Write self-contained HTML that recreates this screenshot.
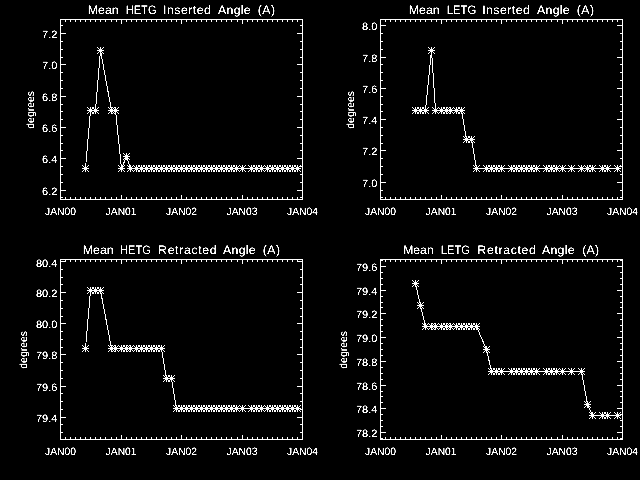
<!DOCTYPE html>
<html lang="en"><head><meta charset="utf-8"><title>Mean Grating Angles</title>
<style>html,body{margin:0;padding:0;background:#000;overflow:hidden}svg{display:block}text{font-family:"Liberation Sans",sans-serif;fill:#fff;stroke:#fff;stroke-width:0px;text-rendering:geometricPrecision}.t{font-size:12.3px}.l{font-size:10.7px}.a{stroke:#fff;stroke-width:1;fill:none;shape-rendering:crispEdges}.f{fill:#fff;shape-rendering:crispEdges}</style></head><body>
<svg width="640" height="480" viewBox="0 0 640 480">
<rect width="640" height="480" fill="#000"/>
<defs><filter id="tx" x="0" y="0" width="640" height="480" filterUnits="userSpaceOnUse" color-interpolation-filters="sRGB"><feComponentTransfer><feFuncA type="linear" slope="3" intercept="-0.8"/></feComponentTransfer></filter><path id="m" d="M-3,0h7v1h-7zM0,-3h1v7h-1zM-1,-1h1v1h-1zM-1,1h1v1h-1zM1,-1h1v1h-1zM1,1h1v1h-1zM-2,-2h1v1h-1zM-2,2h1v1h-1zM2,-2h1v1h-1zM2,2h1v1h-1zM-3,-3h1v1h-1zM-3,3h1v1h-1zM3,-3h1v1h-1zM3,3h1v1h-1z" fill="#fff" shape-rendering="crispEdges"/></defs>
<g>
<path class="f" d="M60,19h243v1h-243zM60,199h243v1h-243zM60,19h1v181h-1zM302,19h1v181h-1zM65,197h1v2h-1zM65,20h1v2h-1zM70,197h1v2h-1zM70,20h1v2h-1zM75,197h1v2h-1zM75,20h1v2h-1zM80,197h1v2h-1zM80,20h1v2h-1zM85,197h1v2h-1zM85,20h1v2h-1zM90,197h1v2h-1zM90,20h1v2h-1zM95,197h1v2h-1zM95,20h1v2h-1zM100,197h1v2h-1zM100,20h1v2h-1zM105,197h1v2h-1zM105,20h1v2h-1zM111,197h1v2h-1zM111,20h1v2h-1zM116,197h1v2h-1zM116,20h1v2h-1zM121,195h1v4h-1zM121,20h1v4h-1zM126,197h1v2h-1zM126,20h1v2h-1zM131,197h1v2h-1zM131,20h1v2h-1zM136,197h1v2h-1zM136,20h1v2h-1zM141,197h1v2h-1zM141,20h1v2h-1zM146,197h1v2h-1zM146,20h1v2h-1zM151,197h1v2h-1zM151,20h1v2h-1zM156,197h1v2h-1zM156,20h1v2h-1zM161,197h1v2h-1zM161,20h1v2h-1zM166,197h1v2h-1zM166,20h1v2h-1zM171,197h1v2h-1zM171,20h1v2h-1zM176,197h1v2h-1zM176,20h1v2h-1zM181,195h1v4h-1zM181,20h1v4h-1zM186,197h1v2h-1zM186,20h1v2h-1zM191,197h1v2h-1zM191,20h1v2h-1zM196,197h1v2h-1zM196,20h1v2h-1zM201,197h1v2h-1zM201,20h1v2h-1zM206,197h1v2h-1zM206,20h1v2h-1zM211,197h1v2h-1zM211,20h1v2h-1zM216,197h1v2h-1zM216,20h1v2h-1zM221,197h1v2h-1zM221,20h1v2h-1zM226,197h1v2h-1zM226,20h1v2h-1zM231,197h1v2h-1zM231,20h1v2h-1zM237,197h1v2h-1zM237,20h1v2h-1zM242,195h1v4h-1zM242,20h1v4h-1zM247,197h1v2h-1zM247,20h1v2h-1zM252,197h1v2h-1zM252,20h1v2h-1zM257,197h1v2h-1zM257,20h1v2h-1zM262,197h1v2h-1zM262,20h1v2h-1zM267,197h1v2h-1zM267,20h1v2h-1zM272,197h1v2h-1zM272,20h1v2h-1zM277,197h1v2h-1zM277,20h1v2h-1zM282,197h1v2h-1zM282,20h1v2h-1zM287,197h1v2h-1zM287,20h1v2h-1zM292,197h1v2h-1zM292,20h1v2h-1zM297,197h1v2h-1zM297,20h1v2h-1zM61,197h2v1h-2zM300,197h2v1h-2zM61,190h5v1h-5zM297,190h5v1h-5zM61,182h2v1h-2zM300,182h2v1h-2zM61,174h2v1h-2zM300,174h2v1h-2zM61,166h2v1h-2zM300,166h2v1h-2zM61,158h5v1h-5zM297,158h5v1h-5zM61,150h2v1h-2zM300,150h2v1h-2zM61,143h2v1h-2zM300,143h2v1h-2zM61,135h2v1h-2zM300,135h2v1h-2zM61,127h5v1h-5zM297,127h5v1h-5zM61,119h2v1h-2zM300,119h2v1h-2zM61,111h2v1h-2zM300,111h2v1h-2zM61,104h2v1h-2zM300,104h2v1h-2zM61,96h5v1h-5zM297,96h5v1h-5zM61,88h2v1h-2zM300,88h2v1h-2zM61,80h2v1h-2zM300,80h2v1h-2zM61,72h2v1h-2zM300,72h2v1h-2zM61,64h5v1h-5zM297,64h5v1h-5zM61,57h2v1h-2zM300,57h2v1h-2zM61,49h2v1h-2zM300,49h2v1h-2zM61,41h2v1h-2zM300,41h2v1h-2zM61,33h5v1h-5zM297,33h5v1h-5zM61,25h2v1h-2zM300,25h2v1h-2z"/>
<polyline class="a" points="85.5,168.5 90.5,110.5 95.5,110.5 100.5,50.5 111.5,110.5 115.5,110.5 121.5,168.5 126.5,156.5 130.5,168.5 136.5,168.5 141.5,168.5 146.5,168.5 151.5,168.5 156.5,168.5 161.5,168.5 166.5,168.5 171.5,168.5 176.5,168.5 181.5,168.5 186.5,168.5 191.5,168.5 196.5,168.5 201.5,168.5 206.5,168.5 211.5,168.5 216.5,168.5 221.5,168.5 226.5,168.5 231.5,168.5 236.5,168.5 242.5,168.5 251.5,168.5 256.5,168.5 261.5,168.5 267.5,168.5 272.5,168.5 277.5,168.5 282.5,168.5 287.5,168.5 292.5,168.5 297.5,168.5"/>
<use href="#m" x="85" y="168"/>
<use href="#m" x="90" y="110"/>
<use href="#m" x="95" y="110"/>
<use href="#m" x="100" y="50"/>
<use href="#m" x="111" y="110"/>
<use href="#m" x="115" y="110"/>
<use href="#m" x="121" y="168"/>
<use href="#m" x="126" y="156"/>
<use href="#m" x="130" y="168"/>
<use href="#m" x="136" y="168"/>
<use href="#m" x="141" y="168"/>
<use href="#m" x="146" y="168"/>
<use href="#m" x="151" y="168"/>
<use href="#m" x="156" y="168"/>
<use href="#m" x="161" y="168"/>
<use href="#m" x="166" y="168"/>
<use href="#m" x="171" y="168"/>
<use href="#m" x="176" y="168"/>
<use href="#m" x="181" y="168"/>
<use href="#m" x="186" y="168"/>
<use href="#m" x="191" y="168"/>
<use href="#m" x="196" y="168"/>
<use href="#m" x="201" y="168"/>
<use href="#m" x="206" y="168"/>
<use href="#m" x="211" y="168"/>
<use href="#m" x="216" y="168"/>
<use href="#m" x="221" y="168"/>
<use href="#m" x="226" y="168"/>
<use href="#m" x="231" y="168"/>
<use href="#m" x="236" y="168"/>
<use href="#m" x="242" y="168"/>
<use href="#m" x="251" y="168"/>
<use href="#m" x="256" y="168"/>
<use href="#m" x="261" y="168"/>
<use href="#m" x="267" y="168"/>
<use href="#m" x="272" y="168"/>
<use href="#m" x="277" y="168"/>
<use href="#m" x="282" y="168"/>
<use href="#m" x="287" y="168"/>
<use href="#m" x="292" y="168"/>
<use href="#m" x="297" y="168"/>
</g>
<g>
<path class="f" d="M380,19h243v1h-243zM380,199h243v1h-243zM380,19h1v181h-1zM622,19h1v181h-1zM385,197h1v2h-1zM385,20h1v2h-1zM390,197h1v2h-1zM390,20h1v2h-1zM395,197h1v2h-1zM395,20h1v2h-1zM400,197h1v2h-1zM400,20h1v2h-1zM405,197h1v2h-1zM405,20h1v2h-1zM410,197h1v2h-1zM410,20h1v2h-1zM415,197h1v2h-1zM415,20h1v2h-1zM420,197h1v2h-1zM420,20h1v2h-1zM425,197h1v2h-1zM425,20h1v2h-1zM431,197h1v2h-1zM431,20h1v2h-1zM436,197h1v2h-1zM436,20h1v2h-1zM441,195h1v4h-1zM441,20h1v4h-1zM446,197h1v2h-1zM446,20h1v2h-1zM451,197h1v2h-1zM451,20h1v2h-1zM456,197h1v2h-1zM456,20h1v2h-1zM461,197h1v2h-1zM461,20h1v2h-1zM466,197h1v2h-1zM466,20h1v2h-1zM471,197h1v2h-1zM471,20h1v2h-1zM476,197h1v2h-1zM476,20h1v2h-1zM481,197h1v2h-1zM481,20h1v2h-1zM486,197h1v2h-1zM486,20h1v2h-1zM491,197h1v2h-1zM491,20h1v2h-1zM496,197h1v2h-1zM496,20h1v2h-1zM501,195h1v4h-1zM501,20h1v4h-1zM506,197h1v2h-1zM506,20h1v2h-1zM511,197h1v2h-1zM511,20h1v2h-1zM516,197h1v2h-1zM516,20h1v2h-1zM521,197h1v2h-1zM521,20h1v2h-1zM526,197h1v2h-1zM526,20h1v2h-1zM531,197h1v2h-1zM531,20h1v2h-1zM536,197h1v2h-1zM536,20h1v2h-1zM541,197h1v2h-1zM541,20h1v2h-1zM546,197h1v2h-1zM546,20h1v2h-1zM551,197h1v2h-1zM551,20h1v2h-1zM557,197h1v2h-1zM557,20h1v2h-1zM562,195h1v4h-1zM562,20h1v4h-1zM567,197h1v2h-1zM567,20h1v2h-1zM572,197h1v2h-1zM572,20h1v2h-1zM577,197h1v2h-1zM577,20h1v2h-1zM582,197h1v2h-1zM582,20h1v2h-1zM587,197h1v2h-1zM587,20h1v2h-1zM592,197h1v2h-1zM592,20h1v2h-1zM597,197h1v2h-1zM597,20h1v2h-1zM602,197h1v2h-1zM602,20h1v2h-1zM607,197h1v2h-1zM607,20h1v2h-1zM612,197h1v2h-1zM612,20h1v2h-1zM617,197h1v2h-1zM617,20h1v2h-1zM381,197h2v1h-2zM620,197h2v1h-2zM381,190h2v1h-2zM620,190h2v1h-2zM381,182h5v1h-5zM617,182h5v1h-5zM381,174h2v1h-2zM620,174h2v1h-2zM381,166h2v1h-2zM620,166h2v1h-2zM381,158h2v1h-2zM620,158h2v1h-2zM381,150h5v1h-5zM617,150h5v1h-5zM381,143h2v1h-2zM620,143h2v1h-2zM381,135h2v1h-2zM620,135h2v1h-2zM381,127h2v1h-2zM620,127h2v1h-2zM381,119h5v1h-5zM617,119h5v1h-5zM381,111h2v1h-2zM620,111h2v1h-2zM381,104h2v1h-2zM620,104h2v1h-2zM381,96h2v1h-2zM620,96h2v1h-2zM381,88h5v1h-5zM617,88h5v1h-5zM381,80h2v1h-2zM620,80h2v1h-2zM381,72h2v1h-2zM620,72h2v1h-2zM381,64h2v1h-2zM620,64h2v1h-2zM381,57h5v1h-5zM617,57h5v1h-5zM381,49h2v1h-2zM620,49h2v1h-2zM381,41h2v1h-2zM620,41h2v1h-2zM381,33h2v1h-2zM620,33h2v1h-2zM381,25h5v1h-5zM617,25h5v1h-5z"/>
<polyline class="a" points="415.5,110.5 420.5,110.5 425.5,110.5 431.5,50.5 435.5,110.5 441.5,110.5 446.5,110.5 450.5,110.5 456.5,110.5 461.5,110.5 466.5,139.5 471.5,139.5 476.5,168.5 486.5,168.5 491.5,168.5 496.5,168.5 501.5,168.5 511.5,168.5 516.5,168.5 521.5,168.5 526.5,168.5 531.5,168.5 536.5,168.5 546.5,168.5 551.5,168.5 556.5,168.5 562.5,168.5 571.5,168.5 581.5,168.5 587.5,168.5 592.5,168.5 602.5,168.5 607.5,168.5 617.5,168.5"/>
<use href="#m" x="415" y="110"/>
<use href="#m" x="420" y="110"/>
<use href="#m" x="425" y="110"/>
<use href="#m" x="431" y="50"/>
<use href="#m" x="435" y="110"/>
<use href="#m" x="441" y="110"/>
<use href="#m" x="446" y="110"/>
<use href="#m" x="450" y="110"/>
<use href="#m" x="456" y="110"/>
<use href="#m" x="461" y="110"/>
<use href="#m" x="466" y="139"/>
<use href="#m" x="471" y="139"/>
<use href="#m" x="476" y="168"/>
<use href="#m" x="486" y="168"/>
<use href="#m" x="491" y="168"/>
<use href="#m" x="496" y="168"/>
<use href="#m" x="501" y="168"/>
<use href="#m" x="511" y="168"/>
<use href="#m" x="516" y="168"/>
<use href="#m" x="521" y="168"/>
<use href="#m" x="526" y="168"/>
<use href="#m" x="531" y="168"/>
<use href="#m" x="536" y="168"/>
<use href="#m" x="546" y="168"/>
<use href="#m" x="551" y="168"/>
<use href="#m" x="556" y="168"/>
<use href="#m" x="562" y="168"/>
<use href="#m" x="571" y="168"/>
<use href="#m" x="581" y="168"/>
<use href="#m" x="587" y="168"/>
<use href="#m" x="592" y="168"/>
<use href="#m" x="602" y="168"/>
<use href="#m" x="607" y="168"/>
<use href="#m" x="617" y="168"/>
</g>
<g>
<path class="f" d="M60,259h243v1h-243zM60,439h243v1h-243zM60,259h1v181h-1zM302,259h1v181h-1zM65,437h1v2h-1zM65,260h1v2h-1zM70,437h1v2h-1zM70,260h1v2h-1zM75,437h1v2h-1zM75,260h1v2h-1zM80,437h1v2h-1zM80,260h1v2h-1zM85,437h1v2h-1zM85,260h1v2h-1zM90,437h1v2h-1zM90,260h1v2h-1zM95,437h1v2h-1zM95,260h1v2h-1zM100,437h1v2h-1zM100,260h1v2h-1zM105,437h1v2h-1zM105,260h1v2h-1zM111,437h1v2h-1zM111,260h1v2h-1zM116,437h1v2h-1zM116,260h1v2h-1zM121,435h1v4h-1zM121,260h1v4h-1zM126,437h1v2h-1zM126,260h1v2h-1zM131,437h1v2h-1zM131,260h1v2h-1zM136,437h1v2h-1zM136,260h1v2h-1zM141,437h1v2h-1zM141,260h1v2h-1zM146,437h1v2h-1zM146,260h1v2h-1zM151,437h1v2h-1zM151,260h1v2h-1zM156,437h1v2h-1zM156,260h1v2h-1zM161,437h1v2h-1zM161,260h1v2h-1zM166,437h1v2h-1zM166,260h1v2h-1zM171,437h1v2h-1zM171,260h1v2h-1zM176,437h1v2h-1zM176,260h1v2h-1zM181,435h1v4h-1zM181,260h1v4h-1zM186,437h1v2h-1zM186,260h1v2h-1zM191,437h1v2h-1zM191,260h1v2h-1zM196,437h1v2h-1zM196,260h1v2h-1zM201,437h1v2h-1zM201,260h1v2h-1zM206,437h1v2h-1zM206,260h1v2h-1zM211,437h1v2h-1zM211,260h1v2h-1zM216,437h1v2h-1zM216,260h1v2h-1zM221,437h1v2h-1zM221,260h1v2h-1zM226,437h1v2h-1zM226,260h1v2h-1zM231,437h1v2h-1zM231,260h1v2h-1zM237,437h1v2h-1zM237,260h1v2h-1zM242,435h1v4h-1zM242,260h1v4h-1zM247,437h1v2h-1zM247,260h1v2h-1zM252,437h1v2h-1zM252,260h1v2h-1zM257,437h1v2h-1zM257,260h1v2h-1zM262,437h1v2h-1zM262,260h1v2h-1zM267,437h1v2h-1zM267,260h1v2h-1zM272,437h1v2h-1zM272,260h1v2h-1zM277,437h1v2h-1zM277,260h1v2h-1zM282,437h1v2h-1zM282,260h1v2h-1zM287,437h1v2h-1zM287,260h1v2h-1zM292,437h1v2h-1zM292,260h1v2h-1zM297,437h1v2h-1zM297,260h1v2h-1zM61,432h2v1h-2zM300,432h2v1h-2zM61,424h2v1h-2zM300,424h2v1h-2zM61,417h5v1h-5zM297,417h5v1h-5zM61,409h2v1h-2zM300,409h2v1h-2zM61,401h2v1h-2zM300,401h2v1h-2zM61,393h2v1h-2zM300,393h2v1h-2zM61,386h5v1h-5zM297,386h5v1h-5zM61,378h2v1h-2zM300,378h2v1h-2zM61,370h2v1h-2zM300,370h2v1h-2zM61,362h2v1h-2zM300,362h2v1h-2zM61,354h5v1h-5zM297,354h5v1h-5zM61,347h2v1h-2zM300,347h2v1h-2zM61,339h2v1h-2zM300,339h2v1h-2zM61,331h2v1h-2zM300,331h2v1h-2zM61,323h5v1h-5zM297,323h5v1h-5zM61,316h2v1h-2zM300,316h2v1h-2zM61,308h2v1h-2zM300,308h2v1h-2zM61,300h2v1h-2zM300,300h2v1h-2zM61,292h5v1h-5zM297,292h5v1h-5zM61,284h2v1h-2zM300,284h2v1h-2zM61,277h2v1h-2zM300,277h2v1h-2zM61,269h2v1h-2zM300,269h2v1h-2zM61,261h5v1h-5zM297,261h5v1h-5z"/>
<polyline class="a" points="85.5,348.5 90.5,290.5 95.5,290.5 100.5,290.5 111.5,348.5 115.5,348.5 121.5,348.5 126.5,348.5 130.5,348.5 136.5,348.5 141.5,348.5 146.5,348.5 151.5,348.5 156.5,348.5 161.5,348.5 166.5,378.5 171.5,378.5 176.5,408.5 181.5,408.5 186.5,408.5 191.5,408.5 196.5,408.5 201.5,408.5 206.5,408.5 211.5,408.5 216.5,408.5 221.5,408.5 226.5,408.5 231.5,408.5 236.5,408.5 242.5,408.5 251.5,408.5 256.5,408.5 261.5,408.5 267.5,408.5 272.5,408.5 277.5,408.5 282.5,408.5 287.5,408.5 292.5,408.5 297.5,408.5"/>
<use href="#m" x="85" y="348"/>
<use href="#m" x="90" y="290"/>
<use href="#m" x="95" y="290"/>
<use href="#m" x="100" y="290"/>
<use href="#m" x="111" y="348"/>
<use href="#m" x="115" y="348"/>
<use href="#m" x="121" y="348"/>
<use href="#m" x="126" y="348"/>
<use href="#m" x="130" y="348"/>
<use href="#m" x="136" y="348"/>
<use href="#m" x="141" y="348"/>
<use href="#m" x="146" y="348"/>
<use href="#m" x="151" y="348"/>
<use href="#m" x="156" y="348"/>
<use href="#m" x="161" y="348"/>
<use href="#m" x="166" y="378"/>
<use href="#m" x="171" y="378"/>
<use href="#m" x="176" y="408"/>
<use href="#m" x="181" y="408"/>
<use href="#m" x="186" y="408"/>
<use href="#m" x="191" y="408"/>
<use href="#m" x="196" y="408"/>
<use href="#m" x="201" y="408"/>
<use href="#m" x="206" y="408"/>
<use href="#m" x="211" y="408"/>
<use href="#m" x="216" y="408"/>
<use href="#m" x="221" y="408"/>
<use href="#m" x="226" y="408"/>
<use href="#m" x="231" y="408"/>
<use href="#m" x="236" y="408"/>
<use href="#m" x="242" y="408"/>
<use href="#m" x="251" y="408"/>
<use href="#m" x="256" y="408"/>
<use href="#m" x="261" y="408"/>
<use href="#m" x="267" y="408"/>
<use href="#m" x="272" y="408"/>
<use href="#m" x="277" y="408"/>
<use href="#m" x="282" y="408"/>
<use href="#m" x="287" y="408"/>
<use href="#m" x="292" y="408"/>
<use href="#m" x="297" y="408"/>
</g>
<g>
<path class="f" d="M380,259h243v1h-243zM380,439h243v1h-243zM380,259h1v181h-1zM622,259h1v181h-1zM385,437h1v2h-1zM385,260h1v2h-1zM390,437h1v2h-1zM390,260h1v2h-1zM395,437h1v2h-1zM395,260h1v2h-1zM400,437h1v2h-1zM400,260h1v2h-1zM405,437h1v2h-1zM405,260h1v2h-1zM410,437h1v2h-1zM410,260h1v2h-1zM415,437h1v2h-1zM415,260h1v2h-1zM420,437h1v2h-1zM420,260h1v2h-1zM425,437h1v2h-1zM425,260h1v2h-1zM431,437h1v2h-1zM431,260h1v2h-1zM436,437h1v2h-1zM436,260h1v2h-1zM441,435h1v4h-1zM441,260h1v4h-1zM446,437h1v2h-1zM446,260h1v2h-1zM451,437h1v2h-1zM451,260h1v2h-1zM456,437h1v2h-1zM456,260h1v2h-1zM461,437h1v2h-1zM461,260h1v2h-1zM466,437h1v2h-1zM466,260h1v2h-1zM471,437h1v2h-1zM471,260h1v2h-1zM476,437h1v2h-1zM476,260h1v2h-1zM481,437h1v2h-1zM481,260h1v2h-1zM486,437h1v2h-1zM486,260h1v2h-1zM491,437h1v2h-1zM491,260h1v2h-1zM496,437h1v2h-1zM496,260h1v2h-1zM501,435h1v4h-1zM501,260h1v4h-1zM506,437h1v2h-1zM506,260h1v2h-1zM511,437h1v2h-1zM511,260h1v2h-1zM516,437h1v2h-1zM516,260h1v2h-1zM521,437h1v2h-1zM521,260h1v2h-1zM526,437h1v2h-1zM526,260h1v2h-1zM531,437h1v2h-1zM531,260h1v2h-1zM536,437h1v2h-1zM536,260h1v2h-1zM541,437h1v2h-1zM541,260h1v2h-1zM546,437h1v2h-1zM546,260h1v2h-1zM551,437h1v2h-1zM551,260h1v2h-1zM557,437h1v2h-1zM557,260h1v2h-1zM562,435h1v4h-1zM562,260h1v4h-1zM567,437h1v2h-1zM567,260h1v2h-1zM572,437h1v2h-1zM572,260h1v2h-1zM577,437h1v2h-1zM577,260h1v2h-1zM582,437h1v2h-1zM582,260h1v2h-1zM587,437h1v2h-1zM587,260h1v2h-1zM592,437h1v2h-1zM592,260h1v2h-1zM597,437h1v2h-1zM597,260h1v2h-1zM602,437h1v2h-1zM602,260h1v2h-1zM607,437h1v2h-1zM607,260h1v2h-1zM612,437h1v2h-1zM612,260h1v2h-1zM617,437h1v2h-1zM617,260h1v2h-1zM381,438h2v1h-2zM620,438h2v1h-2zM381,432h5v1h-5zM617,432h5v1h-5zM381,426h2v1h-2zM620,426h2v1h-2zM381,420h2v1h-2zM620,420h2v1h-2zM381,414h2v1h-2zM620,414h2v1h-2zM381,408h5v1h-5zM617,408h5v1h-5zM381,402h2v1h-2zM620,402h2v1h-2zM381,396h2v1h-2zM620,396h2v1h-2zM381,391h2v1h-2zM620,391h2v1h-2zM381,385h5v1h-5zM617,385h5v1h-5zM381,379h2v1h-2zM620,379h2v1h-2zM381,373h2v1h-2zM620,373h2v1h-2zM381,367h2v1h-2zM620,367h2v1h-2zM381,361h5v1h-5zM617,361h5v1h-5zM381,355h2v1h-2zM620,355h2v1h-2zM381,349h2v1h-2zM620,349h2v1h-2zM381,343h2v1h-2zM620,343h2v1h-2zM381,337h5v1h-5zM617,337h5v1h-5zM381,331h2v1h-2zM620,331h2v1h-2zM381,325h2v1h-2zM620,325h2v1h-2zM381,319h2v1h-2zM620,319h2v1h-2zM381,313h5v1h-5zM617,313h5v1h-5zM381,307h2v1h-2zM620,307h2v1h-2zM381,302h2v1h-2zM620,302h2v1h-2zM381,296h2v1h-2zM620,296h2v1h-2zM381,290h5v1h-5zM617,290h5v1h-5zM381,284h2v1h-2zM620,284h2v1h-2zM381,278h2v1h-2zM620,278h2v1h-2zM381,272h2v1h-2zM620,272h2v1h-2zM381,266h5v1h-5zM617,266h5v1h-5zM381,260h2v1h-2zM620,260h2v1h-2z"/>
<polyline class="a" points="415.5,283.5 420.5,305.5 425.5,326.5 431.5,326.5 435.5,326.5 441.5,326.5 446.5,326.5 450.5,326.5 456.5,326.5 461.5,326.5 466.5,326.5 471.5,326.5 476.5,326.5 486.5,349.5 491.5,371.5 496.5,371.5 501.5,371.5 511.5,371.5 516.5,371.5 521.5,371.5 526.5,371.5 531.5,371.5 536.5,371.5 546.5,371.5 551.5,371.5 556.5,371.5 562.5,371.5 571.5,371.5 581.5,371.5 587.5,404.5 592.5,415.5 602.5,415.5 607.5,415.5 617.5,415.5"/>
<use href="#m" x="415" y="283"/>
<use href="#m" x="420" y="305"/>
<use href="#m" x="425" y="326"/>
<use href="#m" x="431" y="326"/>
<use href="#m" x="435" y="326"/>
<use href="#m" x="441" y="326"/>
<use href="#m" x="446" y="326"/>
<use href="#m" x="450" y="326"/>
<use href="#m" x="456" y="326"/>
<use href="#m" x="461" y="326"/>
<use href="#m" x="466" y="326"/>
<use href="#m" x="471" y="326"/>
<use href="#m" x="476" y="326"/>
<use href="#m" x="486" y="349"/>
<use href="#m" x="491" y="371"/>
<use href="#m" x="496" y="371"/>
<use href="#m" x="501" y="371"/>
<use href="#m" x="511" y="371"/>
<use href="#m" x="516" y="371"/>
<use href="#m" x="521" y="371"/>
<use href="#m" x="526" y="371"/>
<use href="#m" x="531" y="371"/>
<use href="#m" x="536" y="371"/>
<use href="#m" x="546" y="371"/>
<use href="#m" x="551" y="371"/>
<use href="#m" x="556" y="371"/>
<use href="#m" x="562" y="371"/>
<use href="#m" x="571" y="371"/>
<use href="#m" x="581" y="371"/>
<use href="#m" x="587" y="404"/>
<use href="#m" x="592" y="415"/>
<use href="#m" x="602" y="415"/>
<use href="#m" x="607" y="415"/>
<use href="#m" x="617" y="415"/>
</g>
<g filter="url(#tx)">
<text class="t" y="14"><tspan x="87.82" textLength="30.81" lengthAdjust="spacingAndGlyphs">Mean</tspan> <tspan x="125.68" textLength="30.88" lengthAdjust="spacingAndGlyphs">HETG</tspan> <tspan x="163.10" textLength="47.75" lengthAdjust="spacing">Inserted</tspan> <tspan x="218.00" textLength="32.70" lengthAdjust="spacing">Angle</tspan> <tspan x="257.67" textLength="17.48" lengthAdjust="spacing">(A)</tspan></text>
<text class="l" x="57.4" y="195" text-anchor="end" textLength="15.3" lengthAdjust="spacingAndGlyphs">6.2</text>
<text class="l" x="57.4" y="163" text-anchor="end" textLength="15.3" lengthAdjust="spacingAndGlyphs">6.4</text>
<text class="l" x="57.4" y="132" text-anchor="end" textLength="15.3" lengthAdjust="spacingAndGlyphs">6.6</text>
<text class="l" x="57.4" y="101" text-anchor="end" textLength="15.3" lengthAdjust="spacingAndGlyphs">6.8</text>
<text class="l" x="57.4" y="69" text-anchor="end" textLength="15.3" lengthAdjust="spacingAndGlyphs">7.0</text>
<text class="l" x="57.4" y="38" text-anchor="end" textLength="15.3" lengthAdjust="spacingAndGlyphs">7.2</text>
<text class="l" x="60.5" y="215" text-anchor="middle" textLength="31" lengthAdjust="spacingAndGlyphs">JAN00</text>
<text class="l" x="121.124" y="215" text-anchor="middle" textLength="31" lengthAdjust="spacingAndGlyphs">JAN01</text>
<text class="l" x="181.583" y="215" text-anchor="middle" textLength="31" lengthAdjust="spacingAndGlyphs">JAN02</text>
<text class="l" x="242.041" y="215" text-anchor="middle" textLength="31" lengthAdjust="spacingAndGlyphs">JAN03</text>
<text class="l" x="302.5" y="215" text-anchor="middle" textLength="31" lengthAdjust="spacingAndGlyphs">JAN04</text>
<text class="l" transform="translate(33.7,109.9) rotate(-90)" text-anchor="middle" textLength="37.6" lengthAdjust="spacingAndGlyphs">degrees</text>
<text class="t" y="14"><tspan x="408.82" textLength="30.81" lengthAdjust="spacingAndGlyphs">Mean</tspan> <tspan x="446.72" textLength="29.49" lengthAdjust="spacingAndGlyphs">LETG</tspan> <tspan x="482.20" textLength="47.65" lengthAdjust="spacing">Inserted</tspan> <tspan x="537.00" textLength="32.70" lengthAdjust="spacing">Angle</tspan> <tspan x="576.67" textLength="17.48" lengthAdjust="spacing">(A)</tspan></text>
<text class="l" x="377.4" y="187" text-anchor="end" textLength="15.3" lengthAdjust="spacingAndGlyphs">7.0</text>
<text class="l" x="377.4" y="155" text-anchor="end" textLength="15.3" lengthAdjust="spacingAndGlyphs">7.2</text>
<text class="l" x="377.4" y="124" text-anchor="end" textLength="15.3" lengthAdjust="spacingAndGlyphs">7.4</text>
<text class="l" x="377.4" y="93" text-anchor="end" textLength="15.3" lengthAdjust="spacingAndGlyphs">7.6</text>
<text class="l" x="377.4" y="62" text-anchor="end" textLength="15.3" lengthAdjust="spacingAndGlyphs">7.8</text>
<text class="l" x="377.4" y="30" text-anchor="end" textLength="15.3" lengthAdjust="spacingAndGlyphs">8.0</text>
<text class="l" x="380.5" y="215" text-anchor="middle" textLength="31" lengthAdjust="spacingAndGlyphs">JAN00</text>
<text class="l" x="441.124" y="215" text-anchor="middle" textLength="31" lengthAdjust="spacingAndGlyphs">JAN01</text>
<text class="l" x="501.583" y="215" text-anchor="middle" textLength="31" lengthAdjust="spacingAndGlyphs">JAN02</text>
<text class="l" x="562.041" y="215" text-anchor="middle" textLength="31" lengthAdjust="spacingAndGlyphs">JAN03</text>
<text class="l" x="622.5" y="215" text-anchor="middle" textLength="31" lengthAdjust="spacingAndGlyphs">JAN04</text>
<text class="l" transform="translate(353.7,109.9) rotate(-90)" text-anchor="middle" textLength="37.6" lengthAdjust="spacingAndGlyphs">degrees</text>
<text class="t" y="254"><tspan x="82.82" textLength="30.81" lengthAdjust="spacingAndGlyphs">Mean</tspan> <tspan x="120.07" textLength="30.91" lengthAdjust="spacingAndGlyphs">HETG</tspan> <tspan x="158.10" textLength="58.50" lengthAdjust="spacing">Retracted</tspan> <tspan x="223.00" textLength="32.70" lengthAdjust="spacing">Angle</tspan> <tspan x="262.67" textLength="17.48" lengthAdjust="spacing">(A)</tspan></text>
<text class="l" x="57.4" y="422" text-anchor="end" textLength="21.4" lengthAdjust="spacingAndGlyphs">79.4</text>
<text class="l" x="57.4" y="391" text-anchor="end" textLength="21.4" lengthAdjust="spacingAndGlyphs">79.6</text>
<text class="l" x="57.4" y="359" text-anchor="end" textLength="21.4" lengthAdjust="spacingAndGlyphs">79.8</text>
<text class="l" x="57.4" y="328" text-anchor="end" textLength="21.4" lengthAdjust="spacingAndGlyphs">80.0</text>
<text class="l" x="57.4" y="297" text-anchor="end" textLength="21.4" lengthAdjust="spacingAndGlyphs">80.2</text>
<text class="l" x="57.4" y="267" text-anchor="end" textLength="21.4" lengthAdjust="spacingAndGlyphs">80.4</text>
<text class="l" x="60.5" y="455" text-anchor="middle" textLength="31" lengthAdjust="spacingAndGlyphs">JAN00</text>
<text class="l" x="121.124" y="455" text-anchor="middle" textLength="31" lengthAdjust="spacingAndGlyphs">JAN01</text>
<text class="l" x="181.583" y="455" text-anchor="middle" textLength="31" lengthAdjust="spacingAndGlyphs">JAN02</text>
<text class="l" x="242.041" y="455" text-anchor="middle" textLength="31" lengthAdjust="spacingAndGlyphs">JAN03</text>
<text class="l" x="302.5" y="455" text-anchor="middle" textLength="31" lengthAdjust="spacingAndGlyphs">JAN04</text>
<text class="l" transform="translate(26.7,349.9) rotate(-90)" text-anchor="middle" textLength="37.6" lengthAdjust="spacingAndGlyphs">degrees</text>
<text class="t" y="254"><tspan x="403.16" textLength="30.51" lengthAdjust="spacingAndGlyphs">Mean</tspan> <tspan x="440.81" textLength="29.26" lengthAdjust="spacingAndGlyphs">LETG</tspan> <tspan x="477.37" textLength="58.48" lengthAdjust="spacing">Retracted</tspan> <tspan x="541.88" textLength="32.82" lengthAdjust="spacing">Angle</tspan> <tspan x="582.29" textLength="16.87" lengthAdjust="spacing">(A)</tspan></text>
<text class="l" x="377.4" y="437" text-anchor="end" textLength="21.4" lengthAdjust="spacingAndGlyphs">78.2</text>
<text class="l" x="377.4" y="413" text-anchor="end" textLength="21.4" lengthAdjust="spacingAndGlyphs">78.4</text>
<text class="l" x="377.4" y="390" text-anchor="end" textLength="21.4" lengthAdjust="spacingAndGlyphs">78.6</text>
<text class="l" x="377.4" y="366" text-anchor="end" textLength="21.4" lengthAdjust="spacingAndGlyphs">78.8</text>
<text class="l" x="377.4" y="342" text-anchor="end" textLength="21.4" lengthAdjust="spacingAndGlyphs">79.0</text>
<text class="l" x="377.4" y="318" text-anchor="end" textLength="21.4" lengthAdjust="spacingAndGlyphs">79.2</text>
<text class="l" x="377.4" y="295" text-anchor="end" textLength="21.4" lengthAdjust="spacingAndGlyphs">79.4</text>
<text class="l" x="377.4" y="271" text-anchor="end" textLength="21.4" lengthAdjust="spacingAndGlyphs">79.6</text>
<text class="l" x="380.5" y="455" text-anchor="middle" textLength="31" lengthAdjust="spacingAndGlyphs">JAN00</text>
<text class="l" x="441.124" y="455" text-anchor="middle" textLength="31" lengthAdjust="spacingAndGlyphs">JAN01</text>
<text class="l" x="501.583" y="455" text-anchor="middle" textLength="31" lengthAdjust="spacingAndGlyphs">JAN02</text>
<text class="l" x="562.041" y="455" text-anchor="middle" textLength="31" lengthAdjust="spacingAndGlyphs">JAN03</text>
<text class="l" x="622.5" y="455" text-anchor="middle" textLength="31" lengthAdjust="spacingAndGlyphs">JAN04</text>
<text class="l" transform="translate(346.7,349.9) rotate(-90)" text-anchor="middle" textLength="37.6" lengthAdjust="spacingAndGlyphs">degrees</text>
</g>
</svg></body></html>
